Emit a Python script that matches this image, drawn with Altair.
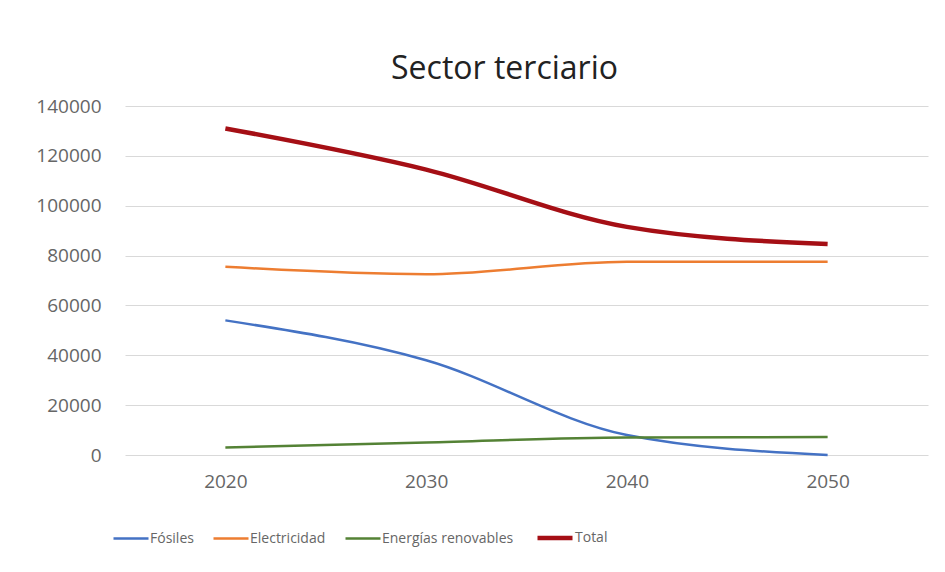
import altair as alt
import pandas as pd

years = ["2020", "2030", "2040", "2050"]
series = ["Fósiles", "Electricidad", "Energías renovables", "Total"]
fosiles = [54000, 38000, 8000, 0]
electricidad = [75500, 72500, 77500, 77500]
renovables = [3000, 5000, 7000, 7200]
total = [131000, 114500, 91500, 84600]
colors = ["#4472C4", "#ED7D31", "#548235", "#A50F15"]
widths = [2.5, 2.5, 2.5, 4.5]

rows = []
for name, vals in zip(series, [fosiles, electricidad, renovables, total]):
    for y, v in zip(years, vals):
        rows.append({"Año": y, "Serie": name, "Valor": v})
df = pd.DataFrame(rows)

FONT = "Open Sans"
LABEL = "#666666"
base = alt.Chart(df).encode(
    x=alt.X("Año:O", sort=years, scale=alt.Scale(padding=0.5),
            axis=alt.Axis(title=None, labelAngle=0, domain=False, ticks=False,
                          labelPadding=17, labelFontSize=19, labelColor=LABEL,
                          labelFont=FONT, grid=False)),
    y=alt.Y("Valor:Q", scale=alt.Scale(domain=[0, 140000]),
            axis=alt.Axis(title=None, values=list(range(0, 140001, 20000)), format="d",
                          domain=False, ticks=False, labelPadding=24,
                          labelFontSize=19, labelColor=LABEL, labelFont=FONT,
                          gridColor="#D9D9D9", gridWidth=1)),
    color=alt.Color("Serie:N", scale=alt.Scale(domain=series, range=colors),
                    legend=alt.Legend(title=None, orient="none", direction="horizontal",
                                      legendX=-13, legendY=412,
                                      symbolType="stroke", symbolSize=1225,
                                      symbolStrokeWidth=3, labelFontSize=14,
                                      labelColor=LABEL, labelFont=FONT,
                                      columnPadding=14, labelOffset=0)),
    strokeWidth=alt.StrokeWidth("Serie:N",
                                scale=alt.Scale(type="ordinal", domain=series, range=widths),
                                legend=None),
)

chart = base.mark_line(interpolate="monotone").properties(
    width=803, height=349,
    title=alt.TitleParams("Sector terciario", fontSize=32, font=FONT, fontWeight="normal",
                          color="#222222", anchor="middle", offset=11, dx=-22),
    autosize=alt.AutoSizeParams(type="none"),
    padding={"left": 117, "top": 98, "right": 9, "bottom": 100},
).configure_view(stroke=None)

chart.save("out.html", embed_options={"renderer": "svg", "actions": False})
